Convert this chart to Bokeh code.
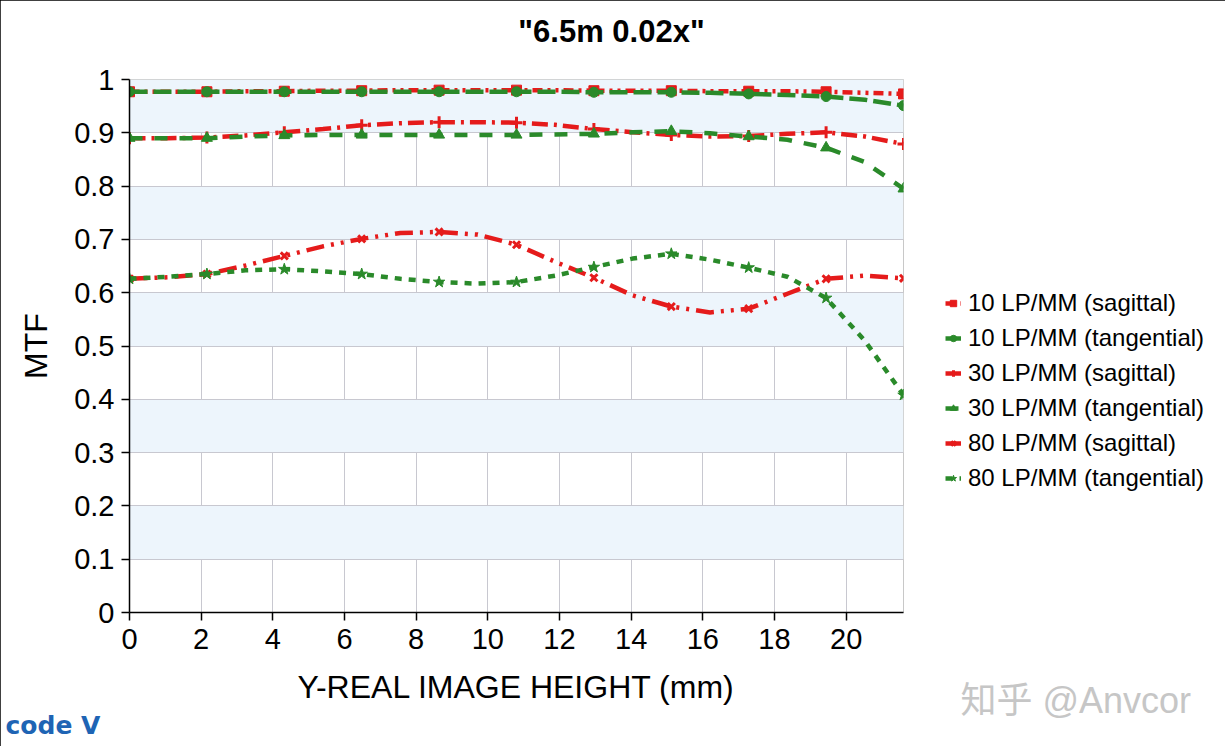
from bokeh.plotting import figure
from bokeh.models import Range1d, FixedTicker, Legend, LegendItem, Label
from bokeh.embed import file_html
from bokeh.resources import INLINE

# ---- data ----
x_mm = [0, 1.08, 2.16, 3.24, 4.32, 5.4, 6.48, 7.56, 8.64, 9.72, 10.8,
        11.88, 12.96, 14.04, 15.12, 16.2, 17.28, 18.36, 19.44, 20.52, 21.6]

sag10 = [0.977, 0.977, 0.977, 0.978, 0.978, 0.979, 0.979, 0.980, 0.980, 0.980, 0.980,
         0.980, 0.979, 0.979, 0.979, 0.978, 0.978, 0.978, 0.977, 0.975, 0.973]
tan10 = [0.977, 0.977, 0.977, 0.977, 0.977, 0.977, 0.977, 0.977, 0.977, 0.977, 0.977,
         0.977, 0.976, 0.976, 0.976, 0.975, 0.973, 0.971, 0.968, 0.962, 0.951]
sag30 = [0.890, 0.890, 0.891, 0.895, 0.901, 0.907, 0.914, 0.918, 0.920, 0.920, 0.919,
         0.915, 0.907, 0.901, 0.896, 0.893, 0.894, 0.898, 0.901, 0.893, 0.879]
tan30 = [0.890, 0.890, 0.890, 0.893, 0.895, 0.896, 0.896, 0.896, 0.896, 0.896, 0.896,
         0.897, 0.898, 0.901, 0.903, 0.899, 0.893, 0.887, 0.872, 0.845, 0.795]
sag80 = [0.626, 0.629, 0.635, 0.651, 0.669, 0.687, 0.701, 0.712, 0.714, 0.709, 0.690,
         0.658, 0.628, 0.595, 0.574, 0.563, 0.570, 0.598, 0.626, 0.632, 0.627]
tan80 = [0.626, 0.630, 0.635, 0.642, 0.644, 0.640, 0.635, 0.626, 0.620, 0.617, 0.620,
         0.632, 0.648, 0.664, 0.673, 0.662, 0.647, 0.630, 0.590, 0.510, 0.408]

labels = ["10 LP/MM (sagittal)", "10 LP/MM (tangential)",
          "30 LP/MM (sagittal)", "30 LP/MM (tangential)",
          "80 LP/MM (sagittal)", "80 LP/MM (tangential)"]
x_ticks = [0, 2, 4, 6, 8, 10, 12, 14, 16, 18, 20]
y_ticks = [0, 0.1, 0.2, 0.3, 0.4, 0.5, 0.6, 0.7, 0.8, 0.9, 1]
y_tick_labels = ["0", "0.1", "0.2", "0.3", "0.4", "0.5", "0.6", "0.7", "0.8", "0.9", "1"]

title_text = '"6.5m 0.02x"'
watermark_text = "知乎 @Anvcor"
logo_text = "code V"

RED = "#e51b1b"
GREEN = "#2a8a2a"
FONT = "Liberation Sans"

styles = [
    (sag10, RED, "10 5 3 5 3 5", "square", 10),
    (tan10, GREEN, "18 6", "circle", 10),
    (sag30, RED, "16 6 3 6", "cross", 12),
    (tan30, GREEN, "13 12", "triangle", 11),
    (sag80, RED, "18 7 3 7 3 7", "x", 10),
    (tan80, GREEN, "7 7", "star", 12),
]

p = figure(width=1225, height=746, frame_width=774, frame_height=533,
           output_backend="svg", toolbar_location=None,
           title=None, x_range=Range1d(0, 21.6), y_range=Range1d(0, 1),
           min_border_left=129, min_border_right=322, min_border_top=79,
           min_border_bottom=134)
p.styles = {"outline": "2px solid black", "outline-offset": "-2px",
            "width": "1225px", "height": "746px", "overflow": "hidden"}

p.outline_line_color = "#c8c8c8"
p.background_fill_color = "white"

# grids
for g in (p.xgrid, p.ygrid):
    g.grid_line_color = "#c8c8d0"
    g.grid_line_width = 1
p.xgrid.ticker = FixedTicker(ticks=x_ticks)
p.ygrid.ticker = FixedTicker(ticks=[-0.1] + y_ticks)
p.ygrid.band_fill_color = "#edf5fc"
p.ygrid.band_fill_alpha = 1.0

# axes
p.xaxis.ticker = FixedTicker(ticks=x_ticks)
p.yaxis.ticker = FixedTicker(ticks=y_ticks)
p.yaxis.major_label_overrides = {t: s for t, s in zip(y_ticks, y_tick_labels)}
for ax in (p.xaxis[0], p.yaxis[0]):
    ax.axis_line_color = "black"
    ax.axis_line_width = 1.5
    ax.major_tick_line_color = "black"
    ax.major_tick_line_width = 1.5
    ax.major_tick_out = 8
    ax.major_tick_in = 0
    ax.minor_tick_line_color = None
    ax.major_label_text_font = FONT
    ax.major_label_text_font_size = "29px"
    ax.major_label_text_color = "black"
    ax.axis_label_text_font = FONT
    ax.axis_label_text_font_size = "32px"
    ax.axis_label_text_font_style = "normal"
    ax.axis_label_text_color = "black"
p.xaxis.major_label_standoff = 8
p.yaxis.major_label_standoff = 7
p.xaxis.axis_label = "Y-REAL IMAGE HEIGHT (mm)"
p.yaxis.axis_label = "MTF"
p.xaxis.axis_label_standoff = 17
p.yaxis.axis_label_standoff = 17

items = []
for lab, (ys, col, dash, mk, sz) in zip(labels, styles):
    lr = p.line(x_mm, ys, line_color=col, line_width=4.5, line_dash=dash)
    sr = p.scatter(x_mm[::2], ys[::2], marker=mk, size=sz, fill_color=col,
                   line_color=col, line_width=3 if mk in ("cross", "x") else 1)
    items.append(LegendItem(label=lab, renderers=[lr, sr]))

legend = Legend(items=items, location=(42, 120), orientation="vertical",
                label_text_font=FONT, label_text_font_size="24px",
                label_text_color="black",
                glyph_width=16, glyph_height=26, label_height=26, spacing=7,
                padding=0, margin=0, label_standoff=7,
                border_line_color=None, background_fill_alpha=0)
p.add_layout(legend, "right")

# free-standing texts, placed in the side panels so they are not clipped to the frame
p.add_layout(Label(x=13.45, y=1.09, text=title_text, text_align="center",
                   text_baseline="middle", text_font=FONT, text_font_style="bold",
                   text_font_size="31px", text_color="black"), "above")
p.add_layout(Label(x=23.19, y=-0.165, text=watermark_text, text_align="left",
                   text_baseline="middle",
                   text_font="Liberation Sans, 'Noto Sans CJK SC'",
                   text_font_size="36px", text_color="#c6c6c6"), "below")
p.add_layout(Label(x=-3.46, y=-0.212, text=logo_text, text_align="left",
                   text_baseline="middle", text_font="DejaVu Sans",
                   text_font_style="bold", text_font_size="25px",
                   text_color="#1e64b4"), "below")

open("out.html", "w").write(file_html(p, INLINE))
